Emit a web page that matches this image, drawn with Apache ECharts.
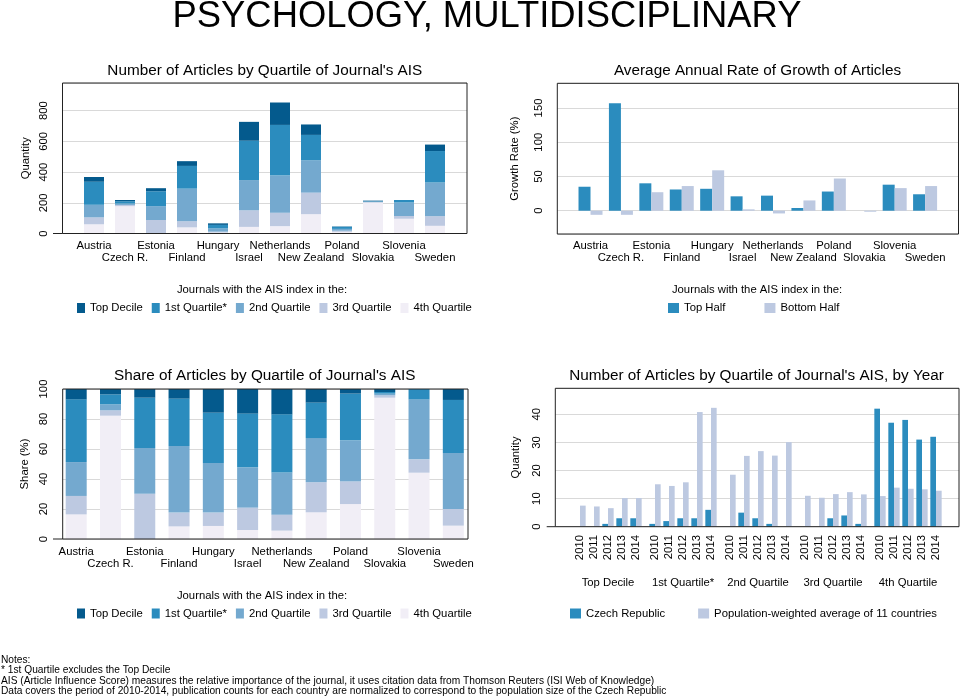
<!DOCTYPE html>
<html><head><meta charset="utf-8">
<script src="https://cdn.jsdelivr.net/npm/echarts@6/dist/echarts.min.js"></script>
<style>html,body{margin:0;padding:0;background:#fff}#c{width:960px;height:698px}</style>
</head><body><div id="c"></div>
<script>
const countries = ['Austria','Czech R.','Estonia','Finland','Hungary','Israel','Netherlands','New Zealand','Poland','Slovakia','Slovenia','Sweden'];
const quartileNames = ['Top Decile','1st Quartile*','2nd Quartile','3rd Quartile','4th Quartile'];
const quartileColors = ['#045a8d','#2b8cbe','#74a9cf','#bdc9e1','#f1eef6'];

// Number of articles by quartile of journal's AIS
const artTopDecile   = [31, 8, 20, 31, 10, 123, 146, 68, 2, 4, 0, 42];
const art1stQuartile = [150, 15, 97, 148, 23, 256, 330, 165, 14, 3, 16, 205];
const art2ndQuartile = [82, 9, 90, 212, 21, 197, 242, 211, 12, 2, 88, 219];
const art3rdQuartile = [45, 8, 88, 40, 6, 108, 87, 140, 7, 4, 18, 63];
const art4thQuartile = [60, 178, 0, 40, 6, 43, 48, 126, 11, 201, 96, 50];

// Share of articles (%)
const shrTopDecile   = [6.9, 3.6, 5.8, 6.4, 15.8, 16.4, 16.9, 9.1, 3.1, 2.0, 0, 7.3];
const shr1stQuartile = [41.8, 6.6, 33.5, 31.6, 33.5, 35.8, 38.7, 23.6, 31.1, 1.1, 6.9, 35.4];
const shr2ndQuartile = [22.6, 4.0, 30.5, 44.4, 33.1, 26.9, 28.2, 29.5, 27.4, 1.1, 40.0, 37.3];
const shr3rdQuartile = [12.3, 3.6, 30.2, 9.2, 8.9, 14.9, 10.6, 20.0, 15.1, 1.6, 8.9, 11.1];
const shr4thQuartile = [16.4, 82.2, 0, 8.4, 8.7, 6.0, 5.6, 17.8, 23.3, 94.2, 44.2, 8.9];

// Average annual growth rate (%)
const growthTopHalf    = [35, 157, 40, 31, 32, 21, 22, 4, 28, 0, 38, 24];
const growthBottomHalf = [-6, -6, 27, 36, 59, 2, -4, 15, 47, -1.5, 33, 36];

// By year
const years = ['2010','2011','2012','2013','2014'];
const czechTopDecile   = [0, 0, 1, 3, 3];
const czech1stQuartile = [1, 2, 3, 3, 6];
const czech2ndQuartile = [0, 5, 3, 1, 0];
const czech3rdQuartile = [0, 0, 3, 4, 1];
const czech4thQuartile = [42, 37, 38, 31, 32];
const avgTopDecile   = [7.5, 7.2, 6.6, 10.2, 10.2];
const avg1stQuartile = [15.1, 14.5, 15.8, 40.8, 42.3];
const avg2ndQuartile = [18.5, 25.2, 26.9, 25.3, 30.1];
const avg3rdQuartile = [11.0, 10.3, 11.6, 12.3, 11.5];
const avg4thQuartile = [10.9, 13.9, 13.5, 13.3, 12.8];

const FONT = '"Liberation Sans", Arial, sans-serif';
const FS = 11.3;
const artSeries = [art4thQuartile, art3rdQuartile, art2ndQuartile, art1stQuartile, artTopDecile];
const shrSeries = [shr4thQuartile, shr3rdQuartile, shr2ndQuartile, shr1stQuartile, shrTopDecile];
const czechByGroup = [czechTopDecile, czech1stQuartile, czech2ndQuartile, czech3rdQuartile, czech4thQuartile];
const avgByGroup = [avgTopDecile, avg1stQuartile, avg2ndQuartile, avg3rdQuartile, avg4thQuartile];
const CZ = 'Czech Republic';
const AVG = 'Population-weighted average of 11 countries';

const grids = [], xAxes = [], yAxes = [], series = [];
function box(l, t, w, h) { return {left: l, top: t, width: w, height: h, containLabel: false, outerBoundsMode: 'none'}; }
function hiddenX(g) { return {gridIndex: g, type: 'value', show: false, min: 0, max: 1}; }
function hiddenY(g, min, max) { return {gridIndex: g, type: 'value', show: false, min: min, max: max}; }
function visY(g, o) {
  return Object.assign({gridIndex: g, type: 'value', nameLocation: 'middle',
    nameTextStyle: {fontSize: FS, color: '#000', fontFamily: FONT},
    axisLine: {show: false}, axisTick: {show: false},
    axisLabel: {rotate: 90, margin: 13, fontSize: FS, color: '#000', fontFamily: FONT},
    splitLine: {show: true, lineStyle: {color: '#d9d9d9', width: 1}}}, o);
}
function countryX(g, margin) {
  return {gridIndex: g, type: 'category', data: countries,
    axisLine: {show: false}, axisTick: {show: false},
    axisLabel: {interval: 0, margin: margin, fontSize: FS, lineHeight: 12, color: '#000', fontFamily: FONT,
      formatter: (v, i) => (i % 2 ? '\n' + v : v)}};
}

// Top-left
grids.push(box(62.5, 83, 404.5, 150.5));
grids.push(box(78.5, 83, 372, 150.5));
xAxes.push(hiddenX(0)); xAxes.push(countryX(1, 6));
yAxes.push(visY(0, {min: 0, max: 980, interval: 200, name: 'Quantity', nameGap: 31,
  axisLabel: {rotate: 90, margin: 13, fontSize: FS, color: '#000', fontFamily: FONT, showMaxLabel: false}}));
yAxes.push(hiddenY(1, 0, 980));
artSeries.forEach((d, k) => series.push({type: 'bar', name: quartileNames[4 - k], xAxisIndex: 1, yAxisIndex: 1,
  stack: 'tl', barWidth: 20, data: d, itemStyle: {color: quartileColors[4 - k]}}));

// Top-right
grids.push(box(557.3, 83.3, 401.2, 150.7));
grids.push(box(575.3, 83.3, 365, 150.7));
xAxes.push(hiddenX(2)); xAxes.push(countryX(3, 5.7));
yAxes.push(visY(2, {min: -34, max: 186, splitNumber: 5, name: 'Growth Rate (%)', nameGap: 36.5,
  axisLabel: {rotate: 90, margin: 13, fontSize: FS, color: '#000', fontFamily: FONT, showMaxLabel: false, showMinLabel: false}}));
yAxes.push(hiddenY(3, -34, 186));
series.push({type: 'bar', name: 'Top Half', xAxisIndex: 3, yAxisIndex: 3, barWidth: 12, barGap: '0%', data: growthTopHalf, itemStyle: {color: '#2b8cbe'}});
series.push({type: 'bar', name: 'Bottom Half', xAxisIndex: 3, yAxisIndex: 3, barWidth: 12, barGap: '0%', data: growthBottomHalf, itemStyle: {color: '#bdc9e1'}});

// Bottom-left
grids.push(box(62.7, 389, 405.3, 150));
grids.push(box(59.06, 389, 411.4, 150));
xAxes.push(hiddenX(4)); xAxes.push(countryX(5, 6.7));
yAxes.push(visY(4, {min: 0, max: 100, interval: 20, name: 'Share (%)', nameGap: 32.5}));
yAxes.push(hiddenY(5, 0, 100));
shrSeries.forEach((d, k) => series.push({type: 'bar', name: quartileNames[4 - k], xAxisIndex: 5, yAxisIndex: 5,
  stack: 'bl', barWidth: 21, data: d, itemStyle: {color: quartileColors[4 - k]}}));

// Bottom-right
grids.push(box(555.3, 388.3, 403.7, 138.4));
xAxes.push(hiddenX(6));
yAxes.push(visY(6, {min: 0, max: 49.25, interval: 10, name: 'Quantity', nameGap: 34,
  axisLabel: {rotate: 90, margin: 13, fontSize: FS, color: '#000', fontFamily: FONT, showMaxLabel: false}}));
for (let g = 0; g < 5; g++) {
  const gi = 7 + g;
  grids.push(box(573 + 75 * g, 388.3, 70, 138.4));
  xAxes.push({gridIndex: gi, type: 'category', data: years,
    axisLine: {show: false}, axisTick: {show: false},
    name: quartileNames[g], nameLocation: 'middle', nameGap: 51,
    nameTextStyle: {fontSize: FS, color: '#000', fontFamily: FONT},
    axisLabel: {interval: 0, rotate: 90, margin: 8.3, fontSize: FS, color: '#000', fontFamily: FONT}});
  yAxes.push(hiddenY(gi, 0, 49.25));
  series.push({type: 'bar', name: CZ, xAxisIndex: gi, yAxisIndex: gi, barWidth: 5.67, barGap: '0%', data: czechByGroup[g], itemStyle: {color: '#2b8cbe'}});
  series.push({type: 'bar', name: AVG, xAxisIndex: gi, yAxisIndex: gi, barWidth: 5.67, barGap: '0%', data: avgByGroup[g], itemStyle: {color: '#bdc9e1'}});
}

function legend(data, left, top, iw, gap) {
  return {data: data, left: left, top: top, orient: 'horizontal', padding: 0, icon: 'rect',
    itemWidth: iw, itemHeight: 10, itemGap: gap, selectedMode: false,
    textStyle: {fontSize: FS, color: '#000', fontFamily: FONT}};
}

function txt(x, y, text, size, align, vAlign, extra) {
  return Object.assign({type: 'text', x: x, y: y, z: 50, silent: true,
    style: {text: text, fontSize: size, fontFamily: FONT, fill: '#000',
      align: align, textAlign: align, verticalAlign: vAlign, textVerticalAlign: vAlign}}, extra || {});
}
function rect(x, y, w, h) {
  return {type: 'rect', z: 100, silent: true, shape: {x: x, y: y, width: w, height: h},
    style: {fill: 'none', stroke: '#222', lineWidth: 1}};
}
function seg(x1, y1, x2, y2) {
  return {type: 'line', z: 100, silent: true, shape: {x1: x1, y1: y1, x2: x2, y2: y2}, style: {stroke: '#222', lineWidth: 1}};
}

const notes = ['Notes:',
  '* 1st Quartile excludes the Top Decile',
  'AIS (Article Influence Score) measures the relative importance of the journal, it uses citation data from Thomson Reuters (ISI Web of Knowledge)',
  'Data covers the period of 2010-2014, publication counts for each country are normalized to correspond to the population size of the Czech Republic'].join('\n');

const option = {
  animation: false,
  backgroundColor: '#fff',
  textStyle: {fontFamily: FONT},
  grid: grids, xAxis: xAxes, yAxis: yAxes, series: series,
  legend: [
    legend(quartileNames, 77, 302.5, 8, 9),
    legend(quartileNames, 77, 608, 8, 9),
    legend(['Top Half', 'Bottom Half'], 668, 302.5, 11, 39),
    legend([CZ, AVG], 570, 608, 11, 33)
  ],
  graphic: [
    rect(62.5, 83, 404.5, 150.5),
    rect(557.3, 83.3, 401.2, 150.7),
    rect(62.7, 389, 405.3, 150),
    rect(555.3, 388.3, 403.7, 138.4),
    seg(53, 233.5, 62.5, 233.5),
    seg(53, 539, 62.7, 539),
    seg(546.7, 526.7, 555.3, 526.7),
    txt(487, 17, 'PSYCHOLOGY, MULTIDISCIPLINARY', 36.4, 'center', 'middle'),
    txt(264.8, 71, "Number of Articles by Quartile of Journal's AIS", 15.3, 'center', 'middle'),
    txt(757.5, 71, 'Average Annual Rate of Growth of Articles', 15.3, 'center', 'middle'),
    txt(264.7, 376, "Share of Articles by Quartile of Journal's AIS", 15.3, 'center', 'middle'),
    txt(756.5, 376, "Number of Articles by Quartile of Journal's AIS, by Year", 15.3, 'center', 'middle'),
    txt(262, 290, 'Journals with the AIS index in the:', FS, 'center', 'middle'),
    txt(757, 290, 'Journals with the AIS index in the:', FS, 'center', 'middle'),
    txt(262, 596, 'Journals with the AIS index in the:', FS, 'center', 'middle'),
    txt(1, 655, notes, 10.2, 'left', 'top', {style: {text: notes, fontSize: 10.2, fontFamily: FONT, fill: '#000', lineHeight: 10.3, align: 'left', verticalAlign: 'top'}})
  ]
};
const chart = echarts.init(document.getElementById('c'), null, {renderer: 'canvas'});
chart.setOption(option);
</script></body></html>
